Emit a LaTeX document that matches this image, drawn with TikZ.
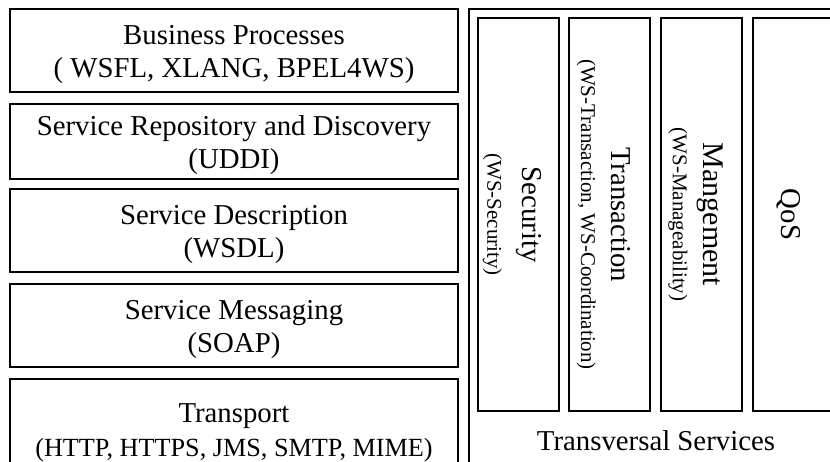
\documentclass[tikz,border=0pt]{standalone}
\usepackage{fontspec}
\setmainfont{Liberation Serif}
\usetikzlibrary{positioning}
\newcommand{\subtxt}[1]{{\fontsize{10.5}{12.5}\selectfont #1}}
\newcommand{\topstrut}{\rule{0pt}{14pt}}

\begin{document}
\begin{tikzpicture}[
    x=0.5pt, y=-0.5pt,
    font=\fontsize{14.4}{16.5}\selectfont,
    layer/.style={draw, line width=1pt, align=center, inner sep=0pt,
      minimum width=224pt, minimum height=41.5pt},
    pillar/.style={draw, line width=1pt, align=center, inner sep=0pt, rotate=-90,
      minimum width=196.5pt, minimum height=40.5pt},
    frame/.style={draw, line width=1pt, inner sep=0pt, anchor=north west},
  ]
    \useasboundingbox (0,0) rectangle (830,461);
    \clip (0,0) rectangle (830,461);

    % web service stack, top to bottom
    \node[layer] (bp) at (234,50.5) {\topstrut Business Processes\\( WSFL, XLANG, BPEL4WS)};
    \node[layer, minimum height=37.75pt] (uddi) at (234,141.25) {\topstrut Service Repository and Discovery\\(UDDI)};
    \node[layer] (wsdl) at (234,230.5) {\topstrut Service Description\\(WSDL)};
    \node[layer] (soap) at (234,325.5) {\topstrut Service Messaging\\(SOAP)};
    \node[layer, minimum height=50pt, anchor=north] (transport) at (234,378) {};
    \node[align=center, font=\fontsize{14.4}{17}\selectfont] (transporttxt) at (234,433)
      {Transport\\{\fontsize{13.1}{17}\selectfont (HTTP, HTTPS, JMS, SMTP, MIME)}};

    % cross-cutting services
    \node[frame, minimum width=190pt, minimum height=235pt] (transversal) at (468,8) {};
    \node[pillar] (security) at (518,214.5) {\rule{0pt}{15.5pt}Security\\[1pt]\subtxt{(WS-Security)}};
    \node[pillar] (transaction) at (609.5,214.5) {\rule{0pt}{15.5pt}Transaction\\[-1.5pt]\subtxt{(WS-Transaction, WS-Coordination)}};
    \node[pillar] (management) at (701.5,214.5) {\rule{0pt}{15.5pt}\fontsize{15}{16.5}\selectfont Mangement\\[-1pt]\subtxt{(WS-Manageability)}};
    \node[pillar] (qos) at (793.5,214.5) {\rule{0pt}{14.5pt}QoS};
    \node (transtitle) at (656,441) {Transversal Services};
  \end{tikzpicture}
\end{document}
